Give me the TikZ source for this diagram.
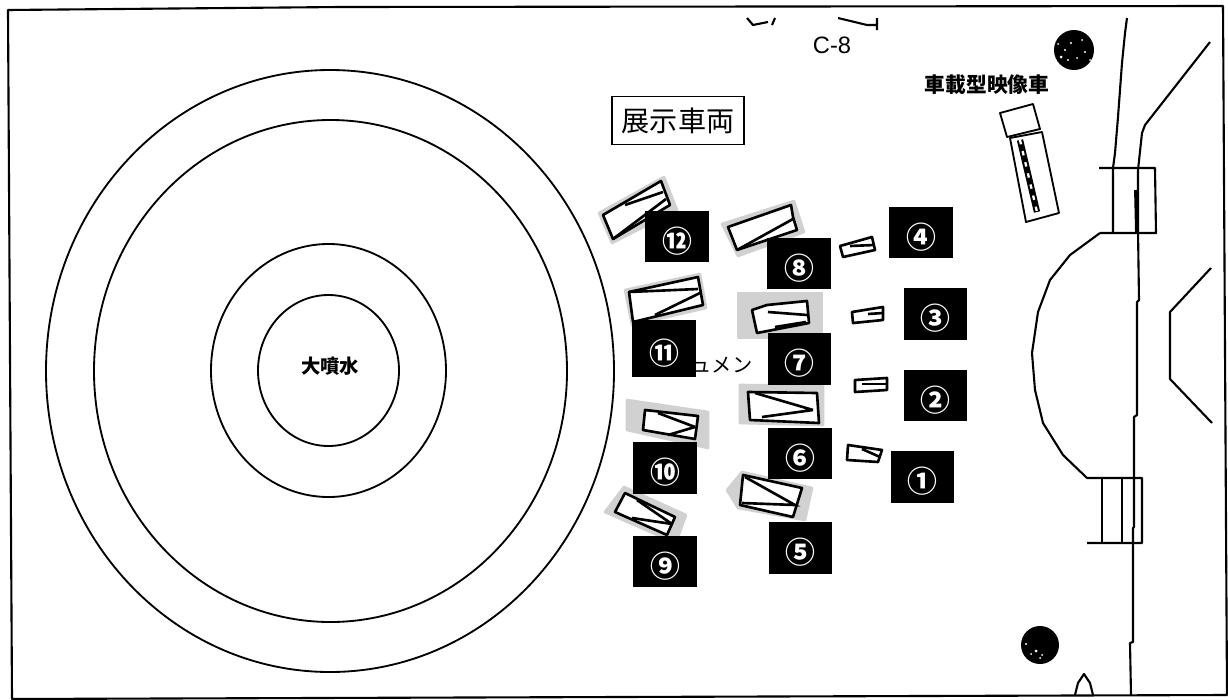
\documentclass[tikz,border=0pt]{standalone}
\usepackage{fontspec}
\setmainfont{Liberation Sans}
\newfontfamily\cjkfont{Noto Sans CJK JP}
\usetikzlibrary{positioning}

\begin{document}
\begin{tikzpicture}[
    x=0.02cm, y=-0.02cm,
    plan/.style={draw, line width=1.05pt, line join=round},
    road/.style={draw, line width=1.2pt, line join=round},
    halo/.style={fill=gray!36, draw=gray!36, line width=1.5pt, line join=round},
    body/.style={draw, fill=white, line width=1.5pt, line join=round},
    seam/.style={draw, line width=1.5pt},
    tagbox/.style={rectangle, fill=black, text=white, inner sep=0pt, minimum width=1.27cm, minimum height=1.03cm, text height=0.70cm, text depth=0.08cm, font=\cjkfont\bfseries\fontsize{17}{17}\selectfont},
    title/.style={rectangle, draw, line width=1pt, minimum width=2.64cm, minimum height=0.96cm, inner sep=0pt, font=\cjkfont\fontsize{16}{16}\selectfont},
    label/.style={inner sep=0pt, font=\cjkfont\bfseries\fontsize{11}{11}\selectfont}
]

\useasboundingbox (0,0) rectangle (1228,700);
\fill[white] (0,0) rectangle (1228,700);

% Outer frame
\draw[road] (8,10) -- (340,7) -- (1223,6) -- (1227,695) -- (12,699) -- cycle;

% Fountain rings
\draw[plan] (330,371) ellipse (284 and 301);
\draw[plan] (330.5,371) ellipse (236.5 and 251);
\draw[plan] (328.5,370.5) ellipse (117.5 and 126.5);
\draw[plan] (328.5,370.5) ellipse (70.5 and 75.5);
\node[label] (fountain) at (330,366) {大噴水};

% Top labels
\node[title] (heading) at (678,120.5) {展示車両};
\node[label, font=\fontsize{13.5}{14}\selectfont] (c8) at (832,45) {C-8};
\node[label, font=\cjkfont\bfseries\fontsize{11.8}{12}\selectfont] (truckname) at (987,85) {車載型映像車};
\draw[road] (747,18) -- (753,25) -- (768,22) (775,18) -- (772,25);
\draw[road] (838,18) -- (867,25) -- (877,25) (877,18) -- (877,30);

% Trees
\fill (1074,50) circle (20);
\fill (1040,645) circle (19);
\fill[white] (1071,43) circle (1.2) (1065,50) circle (1.2) (1082,40) circle (1) (1085,52) circle (1.2) (1061,57) circle (1.5) (1068,60) circle (1.2) (1077,58) circle (1) (1058,44) circle (1) (1090,60) circle (1);
\fill[white] (1036,651) circle (1.5) (1026,644) circle (1.2) (1031,654) circle (1) (1040,658) circle (1) (1042,655) circle (1) (1058,634) circle (1);

% Road on the right
\draw[road] (1127,18) -- (1125,33) -- (1122,63) -- (1118,117) -- (1115,153) -- (1113,168) -- (1113,233);
\draw[road] (1210,42) -- (1145,125) -- (1142,133) -- (1138,170) -- (1138,230) -- (1139,300) -- (1137,302) -- (1137,415) -- (1134,417) -- (1134,527) -- (1133,528) -- (1133,642) -- (1130,643) -- (1131,695);
\draw[road] (1099,168) -- (1155,168) -- (1156,233) -- (1100,233);
\draw[line width=2.2pt] (1136,190) -- (1137,233);
\draw[road] (1100,233) -- (1070,255) -- (1050,280) -- (1038,312) -- (1032,353) -- (1035,390) -- (1043,423) -- (1063,455) -- (1087,478) -- (1142,478) -- (1142,543) -- (1087,543);
\draw[road] (1102,478) -- (1102,543) (1122,478) -- (1122,543);
\draw[road] (1211,268) -- (1170,312) -- (1170,379) -- (1212,423);
\draw[road] (1075,695) -- (1078,683) -- (1084,674) -- (1090,683) -- (1093,695);

% Truck
\draw[plan, fill=white] (1000,113) -- (1033,104) -- (1040,129) -- (1007,137) -- cycle;
\draw[plan, fill=white] (1010,138) -- (1042,132) -- (1059,213) -- (1026,222) -- cycle;
\draw[line width=3.6pt] (1020,140) -- (1037,212);
\draw[white, line width=1.3pt, dash pattern=on 2.5pt off 4pt] (1020,140) -- (1037,212);

% Vehicle 12
\fill[halo] (599,213) -- (664,177) -- (677,210) -- (612,243) -- cycle;
\draw[body] (603,215) -- (661,181) -- (670,205) -- (613,239) -- cycle;
\draw[seam] (613,239) -- (666,199);
\draw[seam] (625,205) -- (663,192);
% Vehicle 8
\fill[halo] (722,224) -- (794,201) -- (804,232) -- (738,256) -- cycle;
\draw[body] (728,227) -- (791,205) -- (793,217) -- (797,230) -- (737,250) -- cycle;
\draw[seam] (737,250) -- (793,219);
% Vehicle 4
\draw[body] (840,246) -- (872,237) -- (875,250) -- (843,257) -- cycle;
\draw[seam] (850,246) -- (874,245);
% Vehicle 11
\fill[halo] (625,290) -- (700,274) -- (706,308) -- (632,325) -- cycle;
\draw[body] (629,292) -- (698,277) -- (703,305) -- (633,322) -- cycle;
\draw[seam] (655,315) -- (700,293);
\draw[seam] (629,292) -- (698,289);
% Vehicle 7
\fill[halo] (738,293) -- (822,293) -- (822,338) -- (738,338) -- cycle;
\draw[body] (752,310) -- (767,305) -- (807,301) -- (809,323) -- (757,333) -- cycle;
\draw[seam] (768,312) -- (807,315) (775,327) -- (806,322);
% Vehicle 3
\draw[body] (852,312) -- (883,307) -- (883,320) -- (853,323) -- cycle;
\draw[seam] (868,314) -- (883,313);
% Vehicle 2
\draw[body] (855,380) -- (887,378) -- (887,390) -- (855,392) -- cycle;
\draw[seam] (862,384) -- (887,384);
% Vehicle 6
\fill[halo] (740,385) -- (823,386) -- (823,425) -- (740,423) -- cycle;
\draw[body] (748,392) -- (817,393) -- (819,423) -- (750,420) -- cycle;
\draw[seam] (755,393) -- (813,410) (762,417) -- (813,410);
% Vehicle 1
\draw[body] (848,445) -- (882,450) -- (878,462) -- (847,460) -- cycle;
\draw[seam] (862,449) -- (880,457);
% Vehicle 10
\fill[halo] (627,400) -- (708,412) -- (708,448) -- (627,430) -- cycle;
\draw[body] (645,410) -- (698,416) -- (695,439) -- (643,430) -- cycle;
\draw[seam] (658,413) -- (695,427) (668,435) -- (695,427);
% Vehicle 5
\fill[halo] (727,490) -- (742,472) -- (812,488) -- (805,520) -- (738,508) -- cycle;
\draw[body] (743,475) -- (802,488) -- (793,517) -- (740,505) -- cycle;
\draw[seam] (745,477) -- (795,505) -- (742,503);
% Vehicle 9
\fill[halo] (605,512) -- (624,487) -- (686,515) -- (678,537) -- (662,537) -- cycle;
\draw[body] (625,493) -- (675,517) -- (667,535) -- (615,512) -- cycle;
\draw[seam] (637,500) -- (672,524) (632,518) -- (672,524);

% Text behind the tags
\node[label, font=\cjkfont\fontsize{11.5}{12}\selectfont] (monument) at (722,365) {ュメン};

% Number tags
\node[tagbox] (tag1) at (922.5,477) {①};
\node[tagbox] (tag2) at (935.5,395.5) {②};
\node[tagbox] (tag3) at (935.5,314) {③};
\node[tagbox] (tag4) at (921,232.5) {④};
\node[tagbox] (tag5) at (800.5,548) {⑤};
\node[tagbox] (tag6) at (800,453.5) {⑥};
\node[tagbox] (tag7) at (799.5,359) {⑦};
\node[tagbox] (tag8) at (799,263.5) {⑧};
\node[tagbox] (tag9) at (665,561.5) {⑨};
\node[tagbox] (tag10) at (665,468) {⑩};
\node[tagbox, minimum height=1.14cm] (tag11) at (664,348.5) {⑪};
\node[tagbox] (tag12) at (677,236.5) {⑫};

\end{tikzpicture}
\end{document}
